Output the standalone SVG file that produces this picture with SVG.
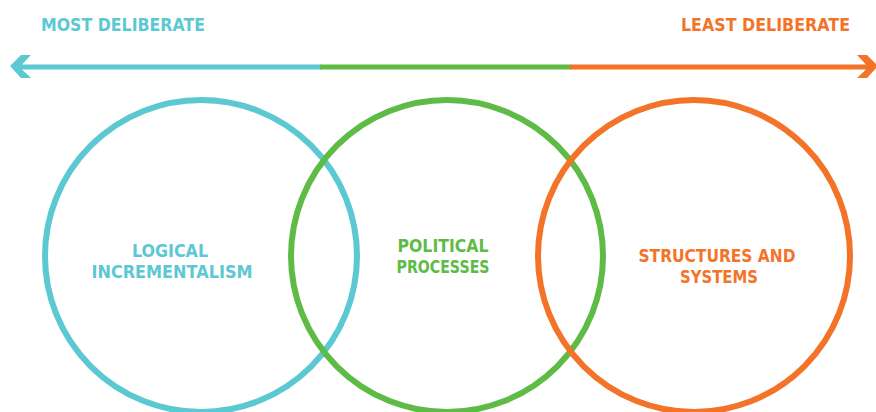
<svg xmlns="http://www.w3.org/2000/svg" width="876" height="412" viewBox="0 0 876 412">
<style>
text{font-family:"DejaVu Sans","Liberation Sans",sans-serif;font-weight:bold;font-size:18px}
.b{fill:#5BC8D2}.g{fill:#5DBB46}.o{fill:#F37329}
.c{fill:none;stroke-width:6}
</style>
<rect width="876" height="412" fill="#fff"/>
<g id="connectors">
<line x1="20" y1="67" x2="321" y2="67" stroke="#5BC8D2" stroke-width="5"/>
<line x1="320" y1="67" x2="571" y2="67" stroke="#5DBB46" stroke-width="5"/>
<line x1="570" y1="67" x2="866" y2="67" stroke="#F37329" stroke-width="5"/>
<polygon points="10,66 21,55 31,55 22,64.5 22,69.5 31,78 21,78" fill="#5BC8D2"/>
<polygon points="878,66 867,55 857,55 866,64.5 866,69.5 857,78 867,78" fill="#F37329"/>
</g>
<g id="label-most"><text class="b" x="41" y="31" textLength="164" lengthAdjust="spacingAndGlyphs">MOST DELIBERATE</text></g>
<g id="label-least"><text class="o" x="681" y="31" textLength="169" lengthAdjust="spacingAndGlyphs">LEAST DELIBERATE</text></g>
<g id="node-logical">
<circle class="c" cx="201" cy="256" r="156" stroke="#5BC8D2"/>
<text class="b" x="170" y="257" text-anchor="middle" textLength="76" lengthAdjust="spacingAndGlyphs">LOGICAL</text>
<text class="b" x="172" y="278" text-anchor="middle" textLength="161" lengthAdjust="spacingAndGlyphs">INCREMENTALISM</text>
</g>
<g id="node-political">
<circle class="c" cx="447" cy="256" r="156" stroke="#5DBB46"/>
<text class="g" x="443" y="252" text-anchor="middle" textLength="91" lengthAdjust="spacingAndGlyphs">POLITICAL</text>
<text class="g" x="443" y="273" text-anchor="middle" textLength="93" lengthAdjust="spacingAndGlyphs">PROCESSES</text>
</g>
<g id="node-structures">
<circle class="c" cx="694" cy="256" r="156" stroke="#F37329"/>
<text class="o" x="717" y="262" text-anchor="middle" textLength="157" lengthAdjust="spacingAndGlyphs">STRUCTURES AND</text>
<text class="o" x="719" y="283" text-anchor="middle" textLength="78" lengthAdjust="spacingAndGlyphs">SYSTEMS</text>
</g>
</svg>
